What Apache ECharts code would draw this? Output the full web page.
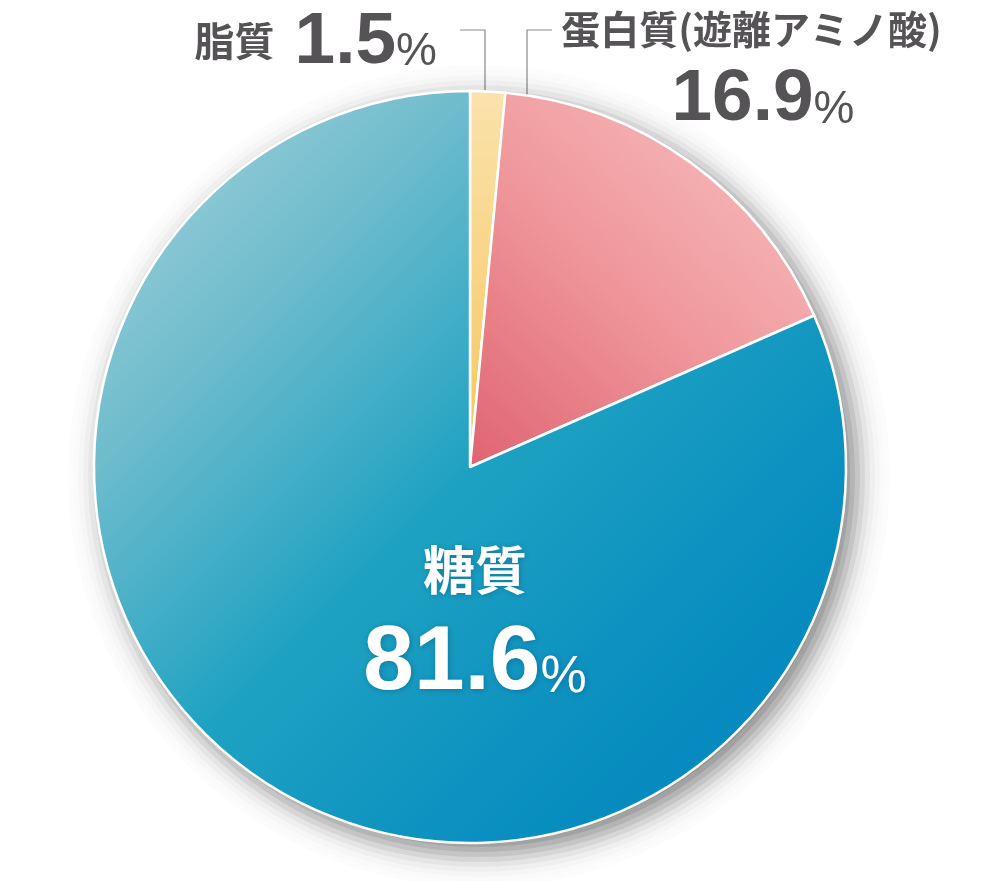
<!DOCTYPE html>
<html><head><meta charset="utf-8">
<script src="https://cdn.jsdelivr.net/npm/echarts@6/dist/echarts.min.js"></script>
<style>html,body{margin:0;padding:0;background:#fff}#c{width:1001px;height:881px}</style>
</head><body><div id="c"></div>
<script>
const names = ['脂質', '蛋白質(遊離アミノ酸)', '糖質'];
const values = [1.5, 16.9, 81.6];
const pctUnit = '%';

const CX = 470, CY = 467, R = 376;
const gray = '#555355';
const JP = '"Noto Sans CJK JP", sans-serif';
const LAT = '"Liberation Sans", Arial, sans-serif';

const colors = [
  new echarts.graphic.LinearGradient(0, 0, 0, 1, [{offset: 0, color: '#fbe2ad'}, {offset: 1, color: '#f5c65a'}]),
  new echarts.graphic.LinearGradient(1, 0, 0, 1, [{offset: 0, color: '#f8c6c4'}, {offset: 0.55, color: '#ef959a'}, {offset: 1, color: '#df6470'}]),
  new echarts.graphic.LinearGradient(0, 0, 1, 1, [{offset: 0, color: '#acd5dd'}, {offset: 0.25, color: '#6fbccd'}, {offset: 0.5, color: '#1ea2c2'}, {offset: 0.75, color: '#0a8fc0'}, {offset: 1, color: '#0082be'}])
];

// soft drop shadow built from stacked translucent disks (outer -> inner)
const SH_OFF = 9;
const shadowBands = [[35, 0.01], [30, 0.02], [25, 0.04], [20, 0.07], [15, 0.11], [10, 0.17], [5, 0.24],
  [0, 0.31], [-5, 0.38], [-10, 0.44], [-16, 0.5]];
const shadowSeries = [];
let prevKeep = 1;
shadowBands.forEach(b => {
  const keep = 1 - b[1];
  const a = 1 - keep / prevKeep;
  prevKeep = keep;
  shadowSeries.push({
    type: 'pie', center: [CX + SH_OFF, CY + SH_OFF], radius: R + b[0], startAngle: 90,
    label: {show: false}, tooltip: {show: false}, emphasis: {disabled: true},
    data: [{name: 'shadow', value: values.reduce((s, v) => s + v, 0)}],
    itemStyle: {color: 'rgba(0,0,0,' + a.toFixed(4) + ')'}
  });
});

const labelLayouts = [
  {x: 437, y: 43, align: 'right', verticalAlign: 'middle', line: [[485, 127], [485, 30], [460, 30]]},
  {x: 757, y: -2, align: 'center', verticalAlign: 'top', line: [[527, 127], [527, 30], [552, 30]]},
  {x: 475, y: 523, align: 'center', verticalAlign: 'top', line: null}
];

function fmt(p) {
  const i = p.dataIndex;
  const v = values[i].toFixed(1);
  if (i === 0) return '{n|' + names[i] + '}{s|}{v|' + v + '}{p|' + pctUnit + '}';
  if (i === 1) return '{n2|' + names[i] + '}\n{v2|' + v + '}{p2|' + pctUnit + '}';
  return '{wn|' + names[i] + '}\n{wv|' + v + '}{wp|' + pctUnit + '}';
}

const wShadow = {textShadowColor: 'rgba(0,40,70,0.3)', textShadowBlur: 6, textShadowOffsetX: 1, textShadowOffsetY: 1};
const rich = {
  n: {fontFamily: JP, fontSize: 40, fontWeight: 'bold', color: gray, lineHeight: 72, verticalAlign: 'middle', padding: [0, 0, 4, 0]},
  s: {width: 20, lineHeight: 72, verticalAlign: 'middle'},
  v: {fontFamily: LAT, fontSize: 73, fontWeight: 'bold', color: gray, lineHeight: 72, verticalAlign: 'middle'},
  p: {fontFamily: LAT, fontSize: 46, color: gray, lineHeight: 72, verticalAlign: 'middle', padding: [19, 0, 0, 0]},
  n2: {fontFamily: JP, fontSize: 39, fontWeight: 'bold', color: gray, lineHeight: 62, verticalAlign: 'middle', padding: [0, 11, 0, 0]},
  v2: {fontFamily: LAT, fontSize: 73, fontWeight: 'bold', color: gray, lineHeight: 80, verticalAlign: 'middle', padding: [0, 0, 0, 12]},
  p2: {fontFamily: LAT, fontSize: 46, color: gray, lineHeight: 80, verticalAlign: 'middle', padding: [20, 0, 0, 0]},
  wn: Object.assign({fontFamily: JP, fontSize: 52, fontWeight: 'bold', color: '#fff', lineHeight: 94, verticalAlign: 'middle'}, wShadow),
  wv: Object.assign({fontFamily: LAT, fontSize: 91, fontWeight: 'bold', color: '#fff', lineHeight: 94, verticalAlign: 'middle'}, wShadow),
  wp: Object.assign({fontFamily: LAT, fontSize: 52, color: '#fff', lineHeight: 94, verticalAlign: 'middle', padding: [28, 0, 0, 0]}, wShadow)
};

const data = names.map((n, i) => ({
  name: n, value: values[i],
  itemStyle: {color: colors[i]},
  labelLine: {show: i !== 2}
}));

const chart = echarts.init(document.getElementById('c'));
chart.setOption({
  animation: false,
  series: shadowSeries.concat([
    {
      type: 'pie', center: [CX, CY], radius: R, startAngle: 90, avoidLabelOverlap: false,
      itemStyle: {borderColor: '#fff', borderWidth: 2.5},
      label: {show: true, position: 'outside', formatter: fmt, rich: rich},
      labelLine: {show: true, lineStyle: {color: '#8a8a8a', width: 1.2}},
      emphasis: {disabled: true},
      labelLayout: function (params) {
        const L = labelLayouts[params.dataIndex];
        const o = {x: L.x, y: L.y, align: L.align, verticalAlign: L.verticalAlign};
        if (L.line) o.labelLinePoints = L.line;
        return o;
      },
      data: data
    }
  ])
});
</script></body></html>
